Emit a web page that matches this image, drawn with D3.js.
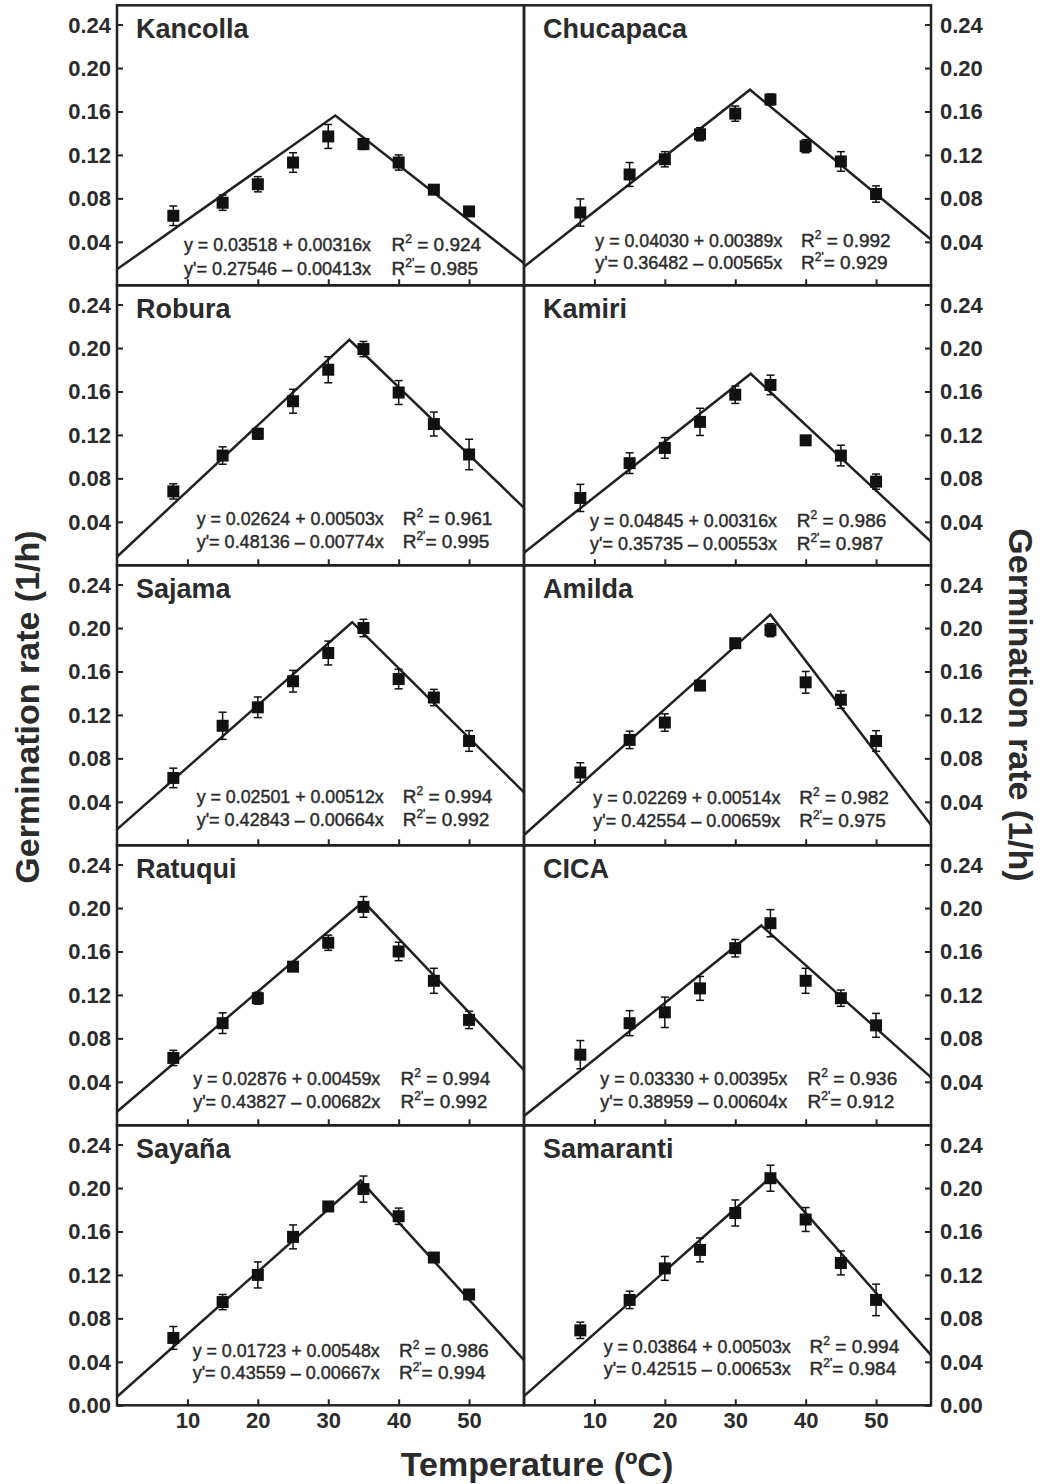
<!DOCTYPE html>
<html><head><meta charset="utf-8">
<script src="https://cdn.jsdelivr.net/npm/d3@7"></script>
<style>
body{margin:0;background:#fff;}
svg{display:block;font-family:"Liberation Sans",Arial,Helvetica,sans-serif;}
</style>
</head><body>
<svg id="chart" width="1045" height="1484"></svg>
<script>
// ---------- data ----------
const temperatures = [8, 15, 20, 25, 30, 35, 40, 45, 50];
const varieties = ["Kancolla","Chucapaca","Robura","Kamiri","Sajama","Amilda","Ratuqui","CICA","Sayaña","Samaranti"];

const rateKancolla  = [0.064, 0.076, 0.093, 0.113, 0.137, 0.130, 0.113, 0.088, 0.068];
const errKancolla   = [0.009, 0.007, 0.007, 0.009, 0.011, 0.005, 0.007, 0.004, 0.004];
const rateChucapaca = [0.067, 0.102, 0.116, 0.139, 0.158, 0.171, 0.128, 0.114, 0.084];
const errChucapaca  = [0.0125, 0.011, 0.007, 0.006, 0.007, 0.005, 0.006, 0.009, 0.0075];
const rateRobura    = [0.068, 0.101, 0.121, 0.151, 0.180, 0.199, 0.159, 0.130, 0.102];
const errRobura     = [0.007, 0.008, 0.005, 0.011, 0.012, 0.007, 0.011, 0.011, 0.014];
const rateKamiri    = [0.062, 0.094, 0.108, 0.132, 0.157, 0.166, 0.115, 0.101, 0.077];
const errKamiri     = [0.0125, 0.0095, 0.0095, 0.0125, 0.008, 0.009, 0.003, 0.0095, 0.007];
const rateSajama    = [0.062, 0.110, 0.127, 0.151, 0.177, 0.200, 0.153, 0.136, 0.096];
const errSajama     = [0.009, 0.0125, 0.0095, 0.010, 0.011, 0.008, 0.009, 0.0075, 0.0095];
const rateAmilda    = [0.067, 0.097, 0.113, 0.147, 0.186, 0.198, 0.150, 0.134, 0.096];
const errAmilda     = [0.009, 0.008, 0.008, 0.004, 0.004, 0.006, 0.010, 0.008, 0.0095];
const rateRatuqui   = [0.062, 0.094, 0.117, 0.146, 0.168, 0.201, 0.160, 0.133, 0.097];
const errRatuqui    = [0.007, 0.0095, 0.0055, 0.004, 0.007, 0.0095, 0.0085, 0.0115, 0.008];
const rateCICA      = [0.065, 0.094, 0.104, 0.126, 0.163, 0.186, 0.133, 0.117, 0.092];
const errCICA       = [0.013, 0.0115, 0.014, 0.011, 0.008, 0.0125, 0.0115, 0.0075, 0.011];
const rateSayana    = [0.062, 0.095, 0.120, 0.155, 0.183, 0.199, 0.174, 0.136, 0.102];
const errSayana     = [0.0105, 0.007, 0.012, 0.011, 0.004, 0.012, 0.0075, 0.004, 0.004];
const rateSamaranti = [0.069, 0.097, 0.126, 0.143, 0.177, 0.209, 0.171, 0.131, 0.097];
const errSamaranti  = [0.0075, 0.008, 0.011, 0.011, 0.012, 0.012, 0.011, 0.011, 0.0145];

// fitted broken-line as drawn: value at T=0, peak (T, rate), value at right edge
const lineStart = [0.0147, 0.0171, 0.0079, 0.0116, 0.0147, 0.0095, 0.0125, 0.0085, 0.0079, 0.0085];
const peakTemp  = [31.0, 32.1, 33.0, 32.2, 33.4, 35.0, 35.0, 33.7, 34.6, 35.3];
const peakRate  = [0.1563, 0.180, 0.2075, 0.1763, 0.2053, 0.2123, 0.2059, 0.1839, 0.2068, 0.2114];
const lineEnd   = [0.0202, 0.0422, 0.0529, 0.0217, 0.0487, 0.0186, 0.0508, 0.0441, 0.0416, 0.0462];

const riseIntercept = ["0.03518","0.04030","0.02624","0.04845","0.02501","0.02269","0.02876","0.03330","0.01723","0.03864"];
const riseSlope     = ["0.00316","0.00389","0.00503","0.00316","0.00512","0.00514","0.00459","0.00395","0.00548","0.00503"];
const riseR2        = ["0.924","0.992","0.961","0.986","0.994","0.982","0.994","0.936","0.986","0.994"];
const fallIntercept = ["0.27546","0.36482","0.48136","0.35735","0.42843","0.42554","0.43827","0.38959","0.43559","0.42515"];
const fallSlope     = ["0.00413","0.00565","0.00774","0.00553","0.00664","0.00659","0.00682","0.00604","0.00667","0.00653"];
const fallR2        = ["0.985","0.929","0.995","0.987","0.992","0.975","0.992","0.912","0.994","0.984"];

const xTicks = [10, 20, 30, 40, 50];
const yTicks = [0.04, 0.08, 0.12, 0.16, 0.20, 0.24];
const yTicksBottom = [0.00, 0.04, 0.08, 0.12, 0.16, 0.20, 0.24];
const xTitle = "Temperature (ºC)";
const yTitle = "Germination rate (1/h)";

const rates = [rateKancolla, rateChucapaca, rateRobura, rateKamiri, rateSajama, rateAmilda, rateRatuqui, rateCICA, rateSayana, rateSamaranti];
const errs  = [errKancolla, errChucapaca, errRobura, errKamiri, errSajama, errAmilda, errRatuqui, errCICA, errSayana, errSamaranti];

// ---------- layout (not data) ----------
const tMax = 57.8, yMax = 0.2577;
const plotLeft = 117, panelW = 407, plotTop = 5.3, panelH = 280;
// equation placement per panel: [x of "y", x of "R", baseline1 above bottom, baseline2 above bottom]
const eqPlace = [
  [67, 274.5, 34.6, 10.3], [71.3, 277, 38.6, 16], [79.7, 285.7, 40, 17.6], [66, 272.7, 38.6, 15.3],
  [79.7, 285.7, 42.6, 19.6], [69.3, 275.3, 41, 18.6], [76.2, 283.6, 40.3, 17.6], [76.3, 283.6, 40.3, 17.6],
  [75.7, 281.9, 48.6, 26], [79.7, 285.6, 52.6, 30.3]
];
const ink = "#222", textInk = "#2b2b2b";

const svg = d3.select("#chart");
const fmt = d3.format(".2f");

varieties.forEach((name, i) => {
  const col = i % 2, row = Math.floor(i / 2);
  const left = plotLeft + col * panelW, top = plotTop + row * panelH, bottom = top + panelH;
  const x = d3.scaleLinear().domain([0, tMax]).range([left, left + panelW]);
  const y = d3.scaleLinear().domain([0, yMax]).range([bottom, top]);
  const g = svg.append("g");

  // fitted line
  const fit = [[0, lineStart[i]], [peakTemp[i], peakRate[i]], [tMax, lineEnd[i]]];
  g.append("path").datum(fit)
    .attr("d", d3.line().x(d => x(d[0])).y(d => y(d[1])))
    .attr("fill", "none").attr("stroke", ink).attr("stroke-width", 2.5);

  // error bars
  const pts = temperatures.map((t, k) => ({t, v: rates[i][k], e: errs[i][k]}));
  const eb = g.append("g").attr("stroke", "#111").attr("stroke-width", 1.5);
  pts.forEach(p => {
    eb.append("line").attr("x1", x(p.t)).attr("x2", x(p.t)).attr("y1", y(p.v - p.e)).attr("y2", y(p.v + p.e));
    [p.v - p.e, p.v + p.e].forEach(v => eb.append("line").attr("x1", x(p.t) - 4).attr("x2", x(p.t) + 4).attr("y1", y(v)).attr("y2", y(v)));
  });
  // markers
  g.selectAll("rect.m").data(pts).join("rect").attr("class", "m")
    .attr("x", d => x(d.t) - 6).attr("y", d => y(d.v) - 6)
    .attr("width", 12).attr("height", 12).attr("fill", "#111");

  // axes (inward ticks)
  const xa = g.append("g").attr("transform", `translate(0,${bottom})`)
    .call(d3.axisBottom(x).tickValues(xTicks).tickSize(-6).tickPadding(7.5).tickFormat(d3.format("d")));
  xa.select(".domain").remove();
  xa.selectAll("line").attr("stroke", ink).attr("stroke-width", 2);
  if (row === 4) {
    xa.selectAll("text").attr("font-size", 22).attr("font-weight", "bold").attr("fill", textInk)
      .attr("font-family", '"Liberation Sans",Arial,sans-serif');
  } else xa.selectAll("text").remove();

  const yt = row === 4 ? yTicksBottom : yTicks;
  const ya = g.append("g")
    .attr("transform", `translate(${col === 0 ? left : left + panelW},0)`)
    .call((col === 0 ? d3.axisLeft(y) : d3.axisRight(y)).tickValues(yt).tickSize(-6).tickPadding(col === 0 ? 6 : 9).tickFormat(fmt));
  ya.select(".domain").remove();
  ya.selectAll("line").attr("stroke", ink).attr("stroke-width", 2);
  ya.selectAll("text").attr("font-size", 22).attr("font-weight", "bold").attr("fill", textInk)
    .attr("font-family", '"Liberation Sans",Arial,sans-serif').attr("dy", "0.34em");

  // frame
  g.append("rect").attr("x", left).attr("y", top).attr("width", panelW).attr("height", panelH)
    .attr("fill", "none").attr("stroke", ink).attr("stroke-width", 2.5);

  // title
  g.append("text").attr("x", left + 19).attr("y", top + 33).text(name)
    .attr("font-size", 27).attr("font-weight", "bold").attr("fill", textInk);

  // equations
  const [ex, rx, b1, b2] = eqPlace[i];
  const eq = g.append("g").attr("font-size", 19).attr("fill", textInk)
    .attr("stroke", textInk).attr("stroke-width", 0.45);
  eq.append("text").attr("x", left + ex).attr("y", bottom - b1)
    .attr("textLength", 187).attr("lengthAdjust", "spacingAndGlyphs")
    .text(`y = ${riseIntercept[i]} + ${riseSlope[i]}x`);
  eq.append("text").attr("x", left + ex).attr("y", bottom - b2)
    .attr("textLength", 187).attr("lengthAdjust", "spacingAndGlyphs")
    .text(`y'= ${fallIntercept[i]} – ${fallSlope[i]}x`);
  const r1 = eq.append("text").attr("x", left + rx).attr("y", bottom - b1);
  r1.append("tspan").text("R");
  r1.append("tspan").attr("font-size", 12).attr("dy", -8).text("2");
  r1.append("tspan").attr("dy", 8).text(" = " + riseR2[i]);
  const r2 = eq.append("text").attr("x", left + rx).attr("y", bottom - b2);
  r2.append("tspan").text("R");
  r2.append("tspan").attr("font-size", 12).attr("dy", -8).text("2'");
  r2.append("tspan").attr("dy", 8).text("= " + fallR2[i]);
});

// axis titles
svg.append("text").attr("transform", "translate(27,707) rotate(-90)")
  .attr("text-anchor", "middle").attr("dy", "0.35em")
  .attr("font-size", 34).attr("font-weight", "bold").attr("fill", textInk).text(yTitle);
svg.append("text").attr("transform", "translate(1021,705) rotate(90)")
  .attr("text-anchor", "middle").attr("dy", "0.35em")
  .attr("font-size", 34).attr("font-weight", "bold").attr("fill", textInk).text(yTitle);
svg.append("text").attr("x", 537).attr("y", 1476).attr("text-anchor", "middle")
  .attr("font-size", 34).attr("font-weight", "bold").attr("fill", textInk).text(xTitle);
</script>
</body></html>
